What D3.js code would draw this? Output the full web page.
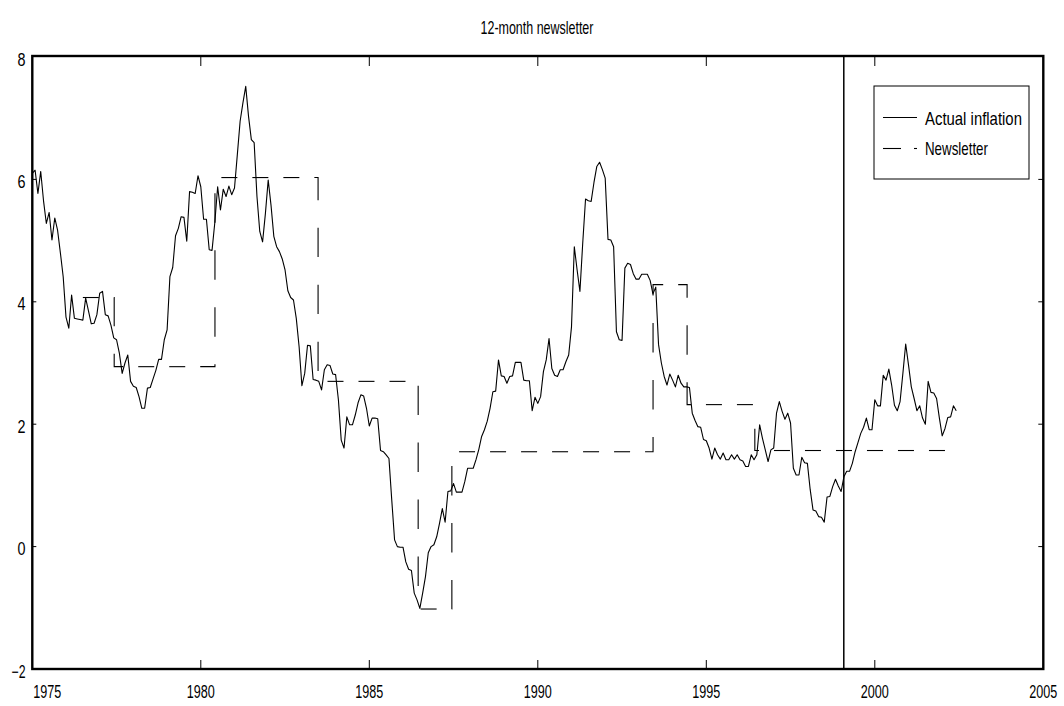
<!DOCTYPE html>
<html>
<head>
<meta charset="utf-8">
<script src="https://cdn.jsdelivr.net/npm/d3@7"></script>
<style>
  html, body { margin: 0; padding: 0; background: #fff; }
  text { font-family: "Liberation Sans", Arial, sans-serif; fill: #000; }
</style>
</head>
<body>
<svg id="chart" width="1064" height="706"></svg>
<script>
// ---------- data ----------
const titleText = "12-month newsletter";
const actualStart = 1975;           // first month of the monthly series (Jan 1975)
const actualValues = [
  6.10, 6.15, 5.77, 6.13, 5.65, 5.28, 5.46, 5.01, 5.37, 5.17, 4.80, 4.41,
  3.75, 3.57, 4.11, 3.73, 3.72, 3.71, 3.70, 4.06, 3.85, 3.64, 3.65, 3.79,
  4.14, 4.17, 3.79, 3.77, 3.62, 3.41, 3.38, 3.16, 2.83, 3.00, 3.13, 2.70,
  2.62, 2.60, 2.45, 2.26, 2.26, 2.59, 2.60, 2.74, 2.88, 3.06, 3.06, 3.38,
  3.54, 4.41, 4.56, 5.08, 5.20, 5.39, 5.38, 4.99, 5.80, 5.79, 5.77, 6.06,
  5.88, 5.35, 5.35, 4.85, 4.84, 5.30, 5.88, 5.50, 5.84, 5.72, 5.89, 5.75,
  5.86, 6.40, 6.95, 7.25, 7.52, 7.03, 6.65, 6.60, 5.72, 5.15, 4.98, 5.44,
  5.99, 5.58, 5.07, 4.90, 4.82, 4.70, 4.52, 4.18, 4.07, 4.03, 3.73, 3.27,
  2.63, 2.83, 3.29, 3.28, 2.73, 2.72, 2.70, 2.56, 2.89, 2.97, 2.96, 2.82,
  2.81, 2.40, 1.74, 1.61, 2.12, 1.99, 1.99, 2.15, 2.35, 2.48, 2.46, 2.26,
  1.97, 2.10, 2.10, 2.09, 1.57, 1.55, 1.50, 1.44, 0.76, 0.11, 0.00, -0.01,
  -0.01, -0.25, -0.37, -0.39, -0.76, -0.87, -1.01, -0.76, -0.49, -0.10, 0.00, 0.03,
  0.16, 0.38, 0.62, 0.40, 0.90, 0.91, 1.03, 0.89, 0.89, 0.89, 1.06, 1.28,
  1.28, 1.28, 1.42, 1.59, 1.80, 1.91, 2.05, 2.26, 2.53, 2.54, 3.05, 2.79,
  2.78, 2.67, 2.78, 2.79, 3.01, 3.01, 3.01, 2.72, 2.71, 2.71, 2.22, 2.44,
  2.34, 2.45, 2.86, 3.05, 3.40, 2.91, 2.80, 2.78, 2.89, 2.89, 3.02, 3.13,
  3.59, 4.90, 4.52, 4.17, 4.96, 5.68, 5.65, 5.64, 5.95, 6.21, 6.28, 6.16,
  6.02, 5.02, 5.01, 4.90, 3.51, 3.38, 3.37, 4.55, 4.63, 4.61, 4.46, 4.37,
  4.37, 4.45, 4.45, 4.45, 4.35, 4.13, 4.24, 3.30, 3.00, 2.78, 2.64, 2.82,
  2.72, 2.61, 2.80, 2.67, 2.61, 2.61, 2.60, 2.18, 2.06, 1.96, 1.95, 1.75,
  1.73, 1.61, 1.43, 1.61, 1.50, 1.43, 1.53, 1.42, 1.42, 1.50, 1.43, 1.50,
  1.42, 1.40, 1.31, 1.31, 1.50, 1.42, 1.50, 1.99, 1.77, 1.58, 1.39, 1.58,
  1.61, 2.18, 2.37, 2.21, 2.08, 2.18, 2.02, 1.28, 1.17, 1.17, 1.46, 1.37,
  1.36, 0.93, 0.60, 0.58, 0.49, 0.48, 0.40, 0.81, 0.82, 0.98, 1.10, 0.99,
  0.90, 1.14, 1.23, 1.23, 1.36, 1.55, 1.70, 1.85, 1.95, 2.10, 1.91, 1.91,
  2.40, 2.30, 2.30, 2.80, 2.72, 2.90, 2.64, 2.31, 2.22, 2.37, 2.83, 3.31,
  2.97, 2.61, 2.42, 2.22, 2.30, 2.10, 2.00, 2.70, 2.52, 2.51, 2.42, 2.10,
  1.81, 1.93, 2.11, 2.12, 2.30, 2.22
];
// Newsletter forecast: a step series (value holds from each date to the next)
const newsletterDates  = [1976.50, 1977.43, 1980.42, 1983.48, 1986.45, 1987.45, 1993.42, 1994.43, 1996.44, 2002.40];
const newsletterValues = [4.07,    2.94,    6.03,    2.70,    -1.02,   1.55,    4.28,    2.32,    1.57,    1.57];
const euroStart = 1999.08;          // vertical marker line
const xTicks = [1975, 1980, 1985, 1990, 1995, 2000, 2005];
const yTicks = [-2, 0, 2, 4, 6, 8];
const legendLabels = ["Actual inflation", "Newsletter"];

// ---------- layout ----------
const svg = d3.select("#chart");
const x = d3.scaleLinear().domain([1975, 2005]).range([32.3, 1043.3]);
const y = d3.scaleLinear().domain([-2, 8]).range([669, 57]);

// condensed text: horizontally scaled to the width measured in the reference
function ctext(g, str, px, py, anchor, size, width) {
  const t = g.append("text").attr("x", 0).attr("y", 0).attr("text-anchor", anchor)
    .style("font-size", size + "px").text(str);
  const w = t.node().getComputedTextLength();
  const sx = (width && w > 0) ? width / w : 1;
  t.attr("transform", `translate(${px},${py}) scale(${sx},1)`);
  return t;
}

// dashed-line generator: pattern measured with vertical distances compressed
function dashPolylines(pts, on, off, k) {
  const period = on + off, dashes = [];
  let cur = null, phase = 0;
  for (let i = 0; i < pts.length - 1; i++) {
    const p0 = pts[i], p1 = pts[i + 1];
    const dx = p1[0] - p0[0], dy = p1[1] - p0[1];
    const L = Math.sqrt(dx * dx + (k * dy) * (k * dy));
    if (L < 1e-9) continue;
    let t = 0;
    while (t < L - 1e-9) {
      const inOn = phase < on - 1e-9;
      const remain = inOn ? on - phase : period - phase;
      const step = Math.min(remain, L - t);
      const a = t / L, b = (t + step) / L;
      const pa = [p0[0] + dx * a, p0[1] + dy * a], pb = [p0[0] + dx * b, p0[1] + dy * b];
      if (inOn) {
        if (!cur) { cur = [pa]; dashes.push(cur); }
        cur.push(pb);
      } else cur = null;
      t += step; phase += step;
      if (phase >= period - 1e-9) phase = 0;
    }
  }
  return dashes;
}
const line = d3.line();

// ---------- title ----------
ctext(svg, titleText, 537, 34, "middle", 18, 113);

// ---------- series ----------
const actualPts = actualValues.map((v, i) => [x(actualStart + i / 12), y(v)]);
svg.append("path").attr("d", line(actualPts)).attr("fill", "none")
  .attr("stroke", "#000").attr("stroke-width", 1.1).attr("stroke-linejoin", "round");

const stepPts = [];
newsletterDates.forEach((d, i) => {
  stepPts.push([x(d), y(newsletterValues[i])]);
  if (i < newsletterDates.length - 1) stepPts.push([x(newsletterDates[i + 1]), y(newsletterValues[i])]);
});
dashPolylines(stepPts, 16, 15, 0.544).forEach(seg => {
  svg.append("path").attr("d", line(seg)).attr("fill", "none")
    .attr("stroke", "#000").attr("stroke-width", 1.1);
});

// vertical marker
svg.append("line").attr("x1", x(euroStart)).attr("x2", x(euroStart))
  .attr("y1", y(8)).attr("y2", y(-2)).attr("stroke", "#000").attr("stroke-width", 1.5);

// ---------- axes ----------
const frame = svg.append("g");
frame.append("rect").attr("x", x(1975)).attr("y", y(8) - 1)
  .attr("width", x(2005) - x(1975)).attr("height", y(-2) - y(8) + 1)
  .attr("fill", "none").attr("stroke", "#000").attr("stroke-width", 2.4);

// x ticks (bottom and top, inward)
xTicks.slice(1, -1).forEach(t => {
  frame.append("line").attr("x1", x(t)).attr("x2", x(t)).attr("y1", y(-2)).attr("y2", y(-2) - 9)
    .attr("stroke", "#000").attr("stroke-width", 1);
  frame.append("line").attr("x1", x(t)).attr("x2", x(t)).attr("y1", y(8)).attr("y2", y(8) + 9)
    .attr("stroke", "#000").attr("stroke-width", 1);
});
// y ticks (left and right, inward)
yTicks.slice(1, -1).forEach(t => {
  frame.append("line").attr("x1", x(1975)).attr("x2", x(1975) + 4).attr("y1", y(t)).attr("y2", y(t))
    .attr("stroke", "#000").attr("stroke-width", 1);
  frame.append("line").attr("x1", x(2005)).attr("x2", x(2005) - 5).attr("y1", y(t)).attr("y2", y(t))
    .attr("stroke", "#000").attr("stroke-width", 1);
});
// labels
xTicks.forEach((t, i) => {
  ctext(svg, String(t), i === 0 ? x(t) + 1 : x(t), 698, i === 0 ? "start" : "middle", 18, 28);
});
yTicks.forEach(t => {
  const s = t < 0 ? "\u2212" + Math.abs(t) : String(t);
  ctext(svg, s, 25.5, y(t) + 8.5, "end", 18, t < 0 ? 14 : 8);
});

// ---------- legend ----------
const lg = svg.append("g");
lg.append("rect").attr("x", 874).attr("y", 86).attr("width", 155).attr("height", 93)
  .attr("fill", "#fff").attr("stroke", "#000").attr("stroke-width", 1);
lg.append("line").attr("x1", 883).attr("x2", 917).attr("y1", 117.5).attr("y2", 117.5)
  .attr("stroke", "#000").attr("stroke-width", 1.1);
dashPolylines([[883, 148.5], [917, 148.5]], 18, 13, 0.544).forEach(seg => {
  lg.append("path").attr("d", line(seg)).attr("fill", "none").attr("stroke", "#000").attr("stroke-width", 1.1);
});
ctext(lg, legendLabels[0], 925, 124.5, "start", 17.5, 97);
ctext(lg, legendLabels[1], 925, 155, "start", 17.5, 63);
</script>
</body>
</html>
